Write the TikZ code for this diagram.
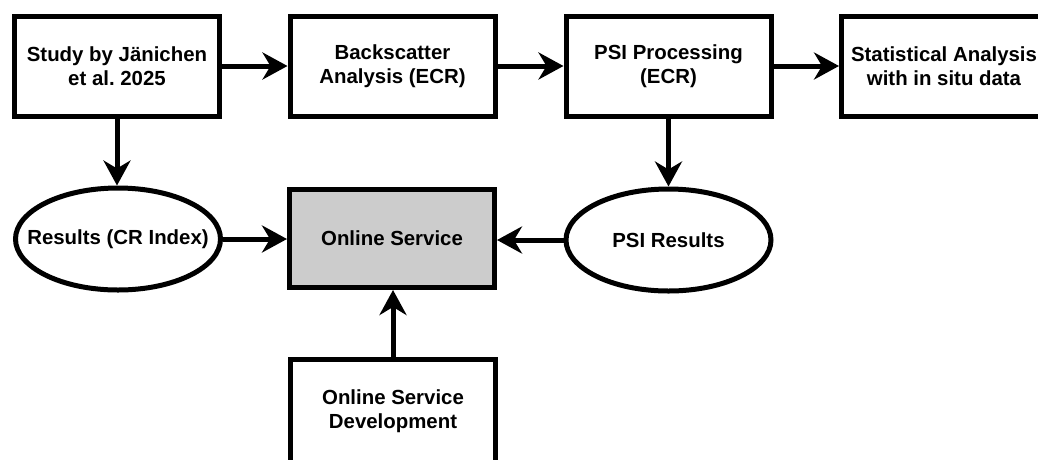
\documentclass[tikz,border=0pt]{standalone}
\usepackage{fontspec}
\setmainfont{Liberation Sans}
\usetikzlibrary{arrows.meta,shapes.geometric}
\frenchspacing
\begin{document}
\begin{tikzpicture}[x=1pt,y=-1pt,
  every node/.style={font=\bfseries\fontsize{20.4}{24}\selectfont, align=center, line width=5pt},
  box/.style={draw, rectangle, minimum width=205pt, minimum height=100pt, inner sep=0pt},
  oval/.style={draw, ellipse, minimum width=205pt, minimum height=102pt, inner sep=0pt},
  arr/.style={line width=5pt, -{Stealth[length=25pt,width=27pt,inset=8pt]}}
]
\useasboundingbox (0,0) rectangle (1038,459);
\node[box] (study) at (117,66) {Study by Jänichen\\et al. 2025};
\node[box] (back) at (392.5,66) {Backscatter\\Analysis (ECR)};
\node[box] (psi) at (668.5,66) {PSI Processing\\(ECR)};
\node[box] (stat) at (944,66) {Statistical Analysis\\with in situ data};
\node[oval] (res) at (118,239) {\makebox[0pt]{Results (CR Index)}};
\node[box, fill={rgb,255:red,204;green,204;blue,204}, minimum height=98pt] (online) at (392,238.5) {Online Service};
\node[oval] (psires) at (668.5,240) {\makebox[0pt]{PSI Results}};
\node[box, minimum height=104pt] (dev) at (393,411.5) {Online Service\\Development};
\draw[arr] (study) -- (back);
\draw[arr] (back) -- (psi);
\draw[arr] (psi) -- (stat);
\draw[arr] (study.south) -- (study.south |- res.north);
\draw[arr] (psi.south) -- (psi.south |- psires.north);
\draw[arr] (res.east) -- (res.east -| online.west);
\draw[arr] (psires.west) -- (psires.west -| online.east);
\draw[arr] (dev.north) -- (dev.north |- online.south);
\end{tikzpicture}
\end{document}
